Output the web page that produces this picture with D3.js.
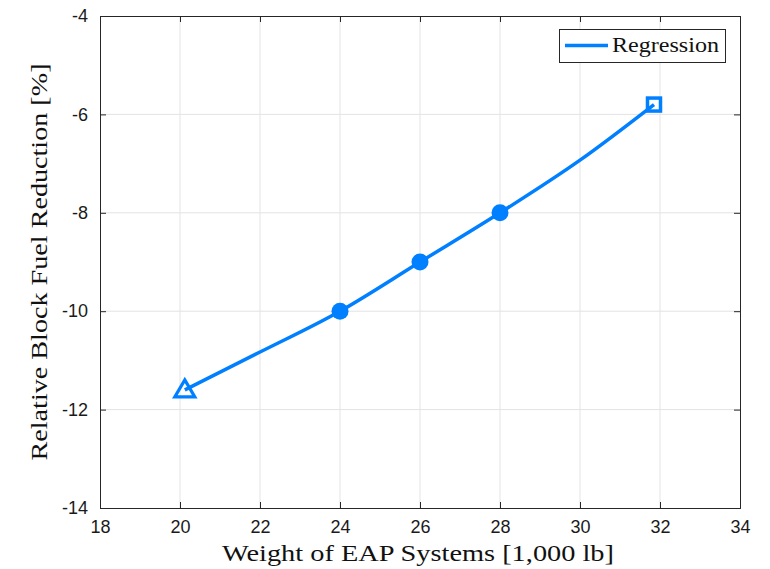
<!DOCTYPE html>
<html><head><meta charset="utf-8">
<script src="https://cdn.jsdelivr.net/npm/d3@7"></script>
<style>body{margin:0;background:#fff}</style>
</head><body>
<svg id="c" width="770" height="569"></svg>
<script>
const xTicks = [18,20,22,24,26,28,30,32,34];
const yTicks = [-14,-12,-10,-8,-6,-4];
const curveX = [20.12, 22, 24, 26, 28, 30, 31.85];
const curveY = [-11.6, -10.83, -10.0, -9.0, -8.0, -6.93, -5.8];
const circleX = [24, 26, 28];
const circleY = [-10, -9, -8];
const triX = [20.12], triY = [-11.6];
const sqX = [31.85], sqY = [-5.8];
const seriesName = "Regression";
const xLabel = "Weight of EAP Systems [1,000 lb]";
const yLabel = "Relative Block Fuel Reduction [%]";

const svg = d3.select("#c");
const L=100, R=740, T=16, B=508;
const x = d3.scaleLinear().domain([18,34]).range([L,R]);
const y = d3.scaleLinear().domain([-14,-4]).range([B,T]);
const col = "#0080ff", axc = "#262626";
const fmt = d => String(d);
const SERIF = '"Liberation Serif"';
const SANS = '"Liberation Sans"';

// grid
svg.append("g").selectAll("line").data(xTicks.slice(1,-1)).join("line")
  .attr("x1",d=>x(d)).attr("x2",d=>x(d)).attr("y1",T).attr("y2",B)
  .attr("stroke","#e3e3e3").attr("stroke-width",1);
svg.append("g").selectAll("line").data(yTicks.slice(1,-1)).join("line")
  .attr("y1",d=>y(d)).attr("y2",d=>y(d)).attr("x1",L).attr("x2",R)
  .attr("stroke","#e3e3e3").attr("stroke-width",1);

// axes
const xa = svg.append("g").attr("transform",`translate(0,${B})`)
  .call(d3.axisBottom(x).tickValues(xTicks).tickSize(-6).tickPadding(12).tickFormat(fmt));
const xa2 = svg.append("g").attr("transform",`translate(0,${T})`)
  .call(d3.axisTop(x).tickValues(xTicks).tickSize(-6).tickFormat(""));
const ya = svg.append("g").attr("transform",`translate(${L},0)`)
  .call(d3.axisLeft(y).tickValues(yTicks).tickSize(-6).tickPadding(12).tickFormat(fmt));
const ya2 = svg.append("g").attr("transform",`translate(${R},0)`)
  .call(d3.axisRight(y).tickValues(yTicks).tickSize(-6).tickFormat(""));
[xa,xa2,ya,ya2].forEach(g=>{
  g.selectAll("path").attr("stroke",axc).attr("stroke-width",1);
  g.selectAll("line").attr("stroke",axc).attr("stroke-width",1);
  g.selectAll("text").attr("fill","#1a1a1a").style("font-family",SANS).style("font-size","18px");
});

// curve
const pts = curveX.map((d,i)=>[d,curveY[i]]);
svg.append("path").datum(pts)
  .attr("d", d3.line().x(d=>x(d[0])).y(d=>y(d[1])).curve(d3.curveMonotoneX))
  .attr("fill","none").attr("stroke",col).attr("stroke-width",3.5);

svg.append("g").selectAll("circle").data(circleX.map((d,i)=>[d,circleY[i]])).join("circle")
  .attr("cx",d=>x(d[0])).attr("cy",d=>y(d[1])).attr("r",8.5).attr("fill",col);

svg.append("g").selectAll("path").data(triX.map((d,i)=>[d,triY[i]])).join("path")
  .attr("transform",d=>`translate(${x(d[0])},${y(d[1])})`)
  .attr("d","M0,-10 L10,7 L-10,7 Z").attr("fill","none").attr("stroke",col).attr("stroke-width",3.2);

svg.append("g").selectAll("rect").data(sqX.map((d,i)=>[d,sqY[i]])).join("rect")
  .attr("x",d=>x(d[0])-6.5).attr("y",d=>y(d[1])-6.5).attr("width",13).attr("height",13)
  .attr("fill","none").attr("stroke",col).attr("stroke-width",3.5);

// legend
svg.append("rect").attr("x",559.5).attr("y",29.5).attr("width",166).attr("height",33)
  .attr("fill","#fff").attr("stroke",axc).attr("stroke-width",1);
svg.append("line").attr("x1",565).attr("x2",608).attr("y1",45.5).attr("y2",45.5)
  .attr("stroke",col).attr("stroke-width",3.5);
svg.append("text").attr("x",612).attr("y",52).text(seriesName)
  .style("font-family",SERIF).style("font-size","21px")
  .attr("textLength",107).attr("lengthAdjust","spacingAndGlyphs").attr("fill","#111");

// axis labels
svg.append("text").attr("x",418).attr("y",561).attr("text-anchor","middle").text(xLabel)
  .style("font-family",SERIF).style("font-size","23px")
  .attr("textLength",392).attr("lengthAdjust","spacingAndGlyphs").attr("fill","#111");
svg.append("text").attr("transform","translate(47,262) rotate(-90)").attr("text-anchor","middle").text(yLabel)
  .style("font-family",SERIF).style("font-size","23px")
  .attr("textLength",397).attr("lengthAdjust","spacingAndGlyphs").attr("fill","#111");
</script>
</body></html>
